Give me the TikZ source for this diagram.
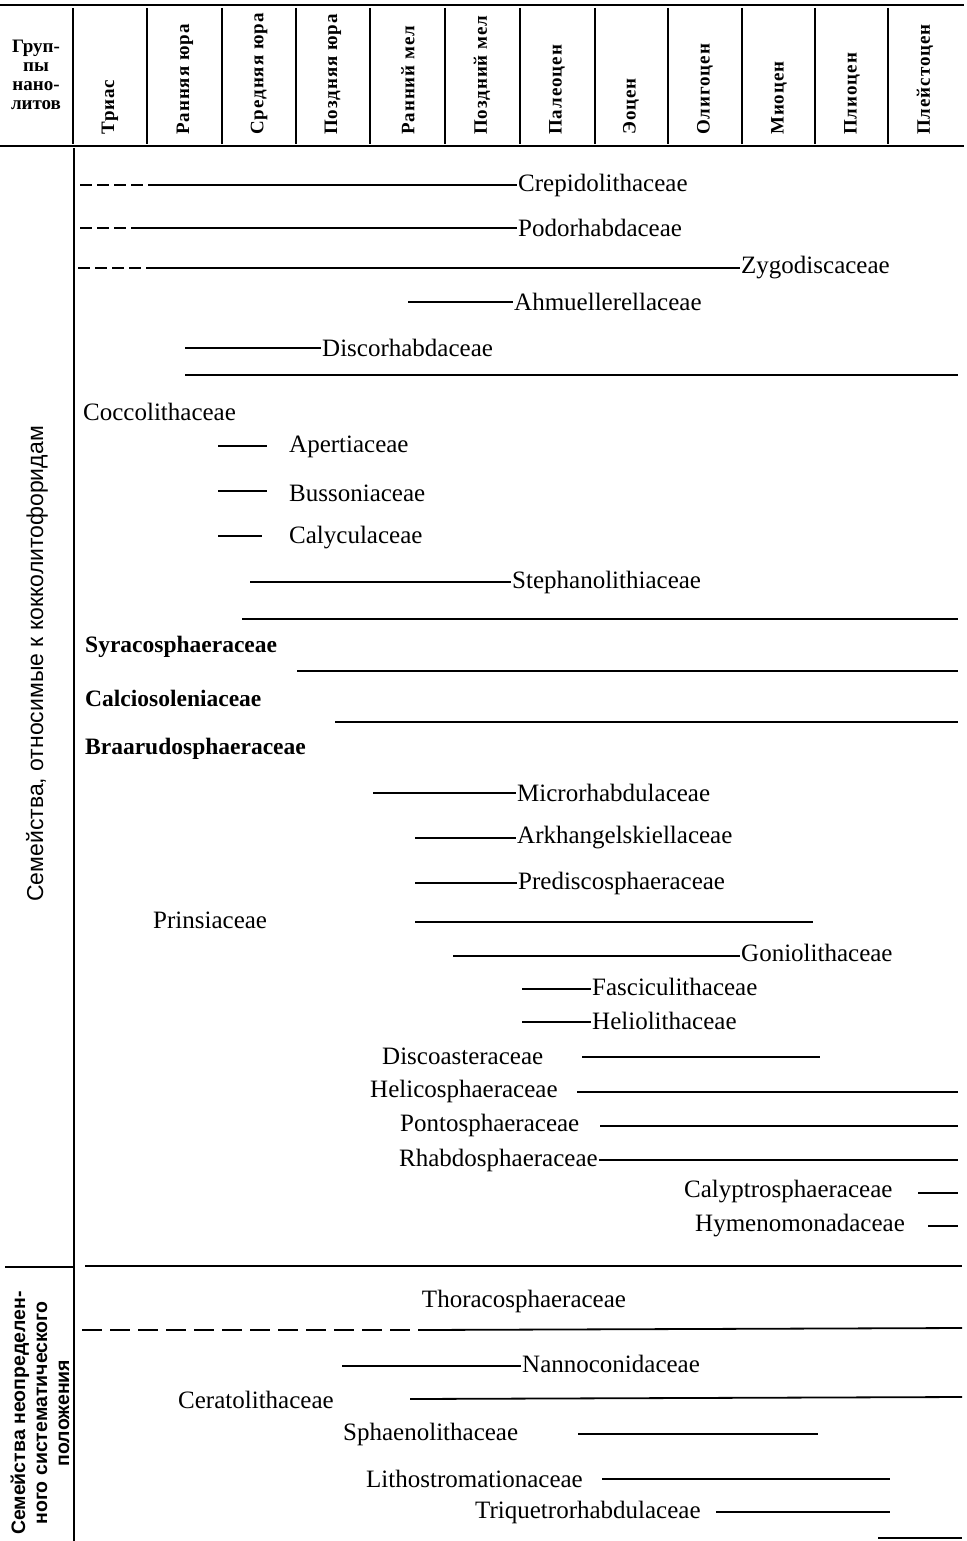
\documentclass[tikz,border=0pt]{standalone}
\usepackage{fontspec}
\setmainfont{Liberation Serif}
\setsansfont{Liberation Sans}
\newfontfamily\hdrfnt{Liberation Serif}[LetterSpace=5]
\begin{document}
\begin{tikzpicture}[x=1pt,y=-1pt,
  famlbl/.style={anchor=west, inner sep=1pt, font=\fontsize{25}{29}\selectfont},
  boldlbl/.style={anchor=west, inner sep=1pt, font=\bfseries\fontsize{23.5}{27}\selectfont},
  rng/.style={line width=1.8pt},
  dsh/.style={line width=1.8pt, dash pattern=on 12pt off 5pt},
  dshb/.style={line width=1.8pt, dash pattern=on 20pt off 8pt},
  frame/.style={line width=1.9pt},
  colline/.style={line width=1.5pt},
  hdr/.style={rotate=90, anchor=west, inner sep=0pt, font=\hdrfnt\bfseries\fontsize{19}{22}\selectfont},
  grp/.style={rotate=90, align=center, inner sep=0pt, font=\sffamily\fontsize{23}{26}\selectfont},
  grpb/.style={rotate=90, align=center, inner sep=0pt, font=\sffamily\bfseries\fontsize{19.5}{22}\selectfont}]

\useasboundingbox (0,0) rectangle (966,1541);

% ---------- header frame ----------
\draw[line width=2.6pt] (0,5) -- (964,5);
\draw[frame] (0,146) -- (964,146);
\foreach \x in {73,147,222,296,370,445,520,595,668,742,815,888}
  \draw[colline] (\x,8) -- (\x,144);

\node[align=center, inner sep=0pt, font=\bfseries\fontsize{19}{19}\selectfont] (grphead) at (36,75) {Груп-\\пы\\нано-\\литов};

\node[hdr] (h1)  at (110,135) {Триас};
\node[hdr] (h2)  at (185,135) {Ранняя юра};
\node[hdr] (h3)  at (259,135) {Средняя юра};
\node[hdr] (h4)  at (333,135) {Поздняя юра};
\node[hdr] (h5)  at (408,135) {Ранний мел};
\node[hdr] (h6)  at (482,135) {Поздний мел};
\node[hdr] (h7)  at (557,135) {Палеоцен};
\node[hdr] (h8)  at (631,135) {Эоцен};
\node[hdr] (h9)  at (705,135) {Олигоцен};
\node[hdr] (h10) at (779,135) {Миоцен};
\node[hdr] (h11) at (852,135) {Плиоцен};
\node[hdr] (h12) at (925,135) {Плейстоцен};

% ---------- left column ----------
\draw[frame] (74,148) -- (74,1541);
\node[grp] (g1) at (37,664) {Семейства, относимые к кокколитофоридам};
\node[grpb] (g2) at (40,1413) {Семейства неопределен-\\ного систематического\\положения};
\draw[rng] (5,1267) -- (73,1267);
\draw[rng] (85,1266) -- (962,1266);

% ---------- families ----------
\coordinate (a1) at (80,185); \coordinate (b1) at (148,185);
\node[famlbl] (crep) at (517,185) {Crepidolithaceae};
\draw[dsh] (a1) -- (b1); \draw[rng] (b1) -- (crep.west);

\coordinate (a2) at (80,228); \coordinate (b2) at (134,228);
\node[famlbl] (podo) at (517,228) {Podorhabdaceae};
\draw[dsh] (a2) -- (b2); \draw[rng] (b2) -- (podo.west);

\coordinate (a3) at (78,268); \coordinate (b3) at (148,268);
\node[famlbl] (zygo) at (740,268) {Zygodiscaceae};
\draw[dsh] (a3) -- (b3); \draw[rng] (b3) -- (zygo.west);

\coordinate (a4) at (408,302);
\node[famlbl] (ahmu) at (513,302) {Ahmuellerellaceae};
\draw[rng] (a4) -- (ahmu.west);

\coordinate (a5) at (185,348);
\node[famlbl] (disc) at (321,348) {Discorhabdaceae};
\draw[rng] (a5) -- (disc.west);

\coordinate (a6) at (185,375); \coordinate (b6) at (958,375);
\draw[rng] (a6) -- (b6);

\node[famlbl] (cocc) at (82,412) {Coccolithaceae};

\coordinate (a8) at (218,446); \coordinate (b8) at (267,446);
\node[famlbl] (aper) at (288,447) {Apertiaceae};
\draw[rng] (a8) -- (b8);

\coordinate (a9) at (218,491); \coordinate (b9) at (267,491);
\node[famlbl] (buss) at (288,493) {Bussoniaceae};
\draw[rng] (a9) -- (b9);

\coordinate (a10) at (218,536); \coordinate (b10) at (262,536);
\node[famlbl] (caly) at (288,538) {Calyculaceae};
\draw[rng] (a10) -- (b10);

\coordinate (a11) at (250,582);
\node[famlbl] (step) at (511,582) {Stephanolithiaceae};
\draw[rng] (a11) -- (step.west);

\coordinate (a12) at (242,619); \coordinate (b12) at (958,619);
\draw[rng] (a12) -- (b12);

\node[boldlbl] (syra) at (84,647) {Syracosphaeraceae};
\coordinate (a13) at (297,671); \coordinate (b13) at (958,671);
\draw[rng] (a13) -- (b13);

\node[boldlbl] (calc) at (84,698) {Calciosoleniaceae};
\coordinate (a14) at (335,722); \coordinate (b14) at (958,722);
\draw[rng] (a14) -- (b14);

\node[boldlbl] (braa) at (84,749) {Braarudosphaeraceae};

\coordinate (a16) at (373,793);
\node[famlbl] (micr) at (516,793) {Microrhabdulaceae};
\draw[rng] (a16) -- (micr.west);

\coordinate (a17) at (415,838);
\node[famlbl] (arkh) at (516,838) {Arkhangelskiellaceae};
\draw[rng] (a17) -- (arkh.west);

\coordinate (a18) at (415,883);
\node[famlbl] (pred) at (517,883) {Prediscosphaeraceae};
\draw[rng] (a18) -- (pred.west);

\node[famlbl] (prin) at (152,920) {Prinsiaceae};
\coordinate (a19) at (415,922); \coordinate (b19) at (813,922);
\draw[rng] (a19) -- (b19);

\coordinate (a20) at (453,956);
\node[famlbl] (goni) at (740,953) {Goniolithaceae};
\draw[rng] (a20) -- (goni.west |- a20);

\coordinate (a21) at (522,989);
\node[famlbl] (fasc) at (591,987) {Fasciculithaceae};
\draw[rng] (a21) -- (fasc.west |- a21);

\coordinate (a22) at (522,1022);
\node[famlbl] (heli) at (591,1021) {Heliolithaceae};
\draw[rng] (a22) -- (heli.west |- a22);

\node[famlbl] (disa) at (381,1056) {Discoasteraceae};
\coordinate (a23) at (582,1057); \coordinate (b23) at (820,1057);
\draw[rng] (a23) -- (b23);

\node[famlbl] (hlcs) at (369,1091) {Helicosphaeraceae};
\coordinate (a24) at (577,1092); \coordinate (b24) at (958,1092);
\draw[rng] (a24) -- (b24);

\node[famlbl] (pont) at (399,1125) {Pontosphaeraceae};
\coordinate (a25) at (600,1126); \coordinate (b25) at (958,1126);
\draw[rng] (a25) -- (b25);

\node[famlbl] (rhab) at (398,1160) {Rhabdosphaeraceae};
\coordinate (b26) at (958,1160);
\draw[rng] (rhab.east) -- (b26);

\node[famlbl] (calp) at (683,1192) {Calyptrosphaeraceae};
\coordinate (a27) at (918,1193); \coordinate (b27) at (958,1193);
\draw[rng] (a27) -- (b27);

\node[famlbl] (hyme) at (694,1226) {Hymenomonadaceae};
\coordinate (a28) at (928,1226); \coordinate (b28) at (958,1226);
\draw[rng] (a28) -- (b28);

% ---------- second group ----------
\node[famlbl, anchor=center] (thor) at (524,1301) {Thoracosphaeraceae};
\coordinate (a30) at (82,1330); \coordinate (b30) at (420,1330); \coordinate (c30) at (962,1328);
\draw[dshb] (a30) -- (b30); \draw[rng] (b30) -- (c30);

\coordinate (a31) at (342,1366);
\node[famlbl] (nann) at (521,1364) {Nannoconidaceae};
\draw[rng] (a31) -- (nann.west |- a31);

\node[famlbl] (cera) at (177,1400) {Ceratolithaceae};
\coordinate (a32) at (410,1399); \coordinate (b32) at (962,1397);
\draw[rng] (a32) -- (b32);

\node[famlbl] (spha) at (342,1434) {Sphaenolithaceae};
\coordinate (a33) at (578,1434); \coordinate (b33) at (818,1434);
\draw[rng] (a33) -- (b33);

\node[famlbl] (lith) at (365,1479) {Lithostromationaceae};
\coordinate (a34) at (602,1479); \coordinate (b34) at (890,1479);
\draw[rng] (a34) -- (b34);

\node[famlbl] (triq) at (474,1512) {Triquetrorhabdulaceae};
\coordinate (a35) at (716,1512); \coordinate (b35) at (890,1512);
\draw[rng] (a35) -- (b35);

\coordinate (a36) at (878,1538); \coordinate (b36) at (962,1538);
\draw[rng] (a36) -- (b36);
\end{tikzpicture}
\end{document}
